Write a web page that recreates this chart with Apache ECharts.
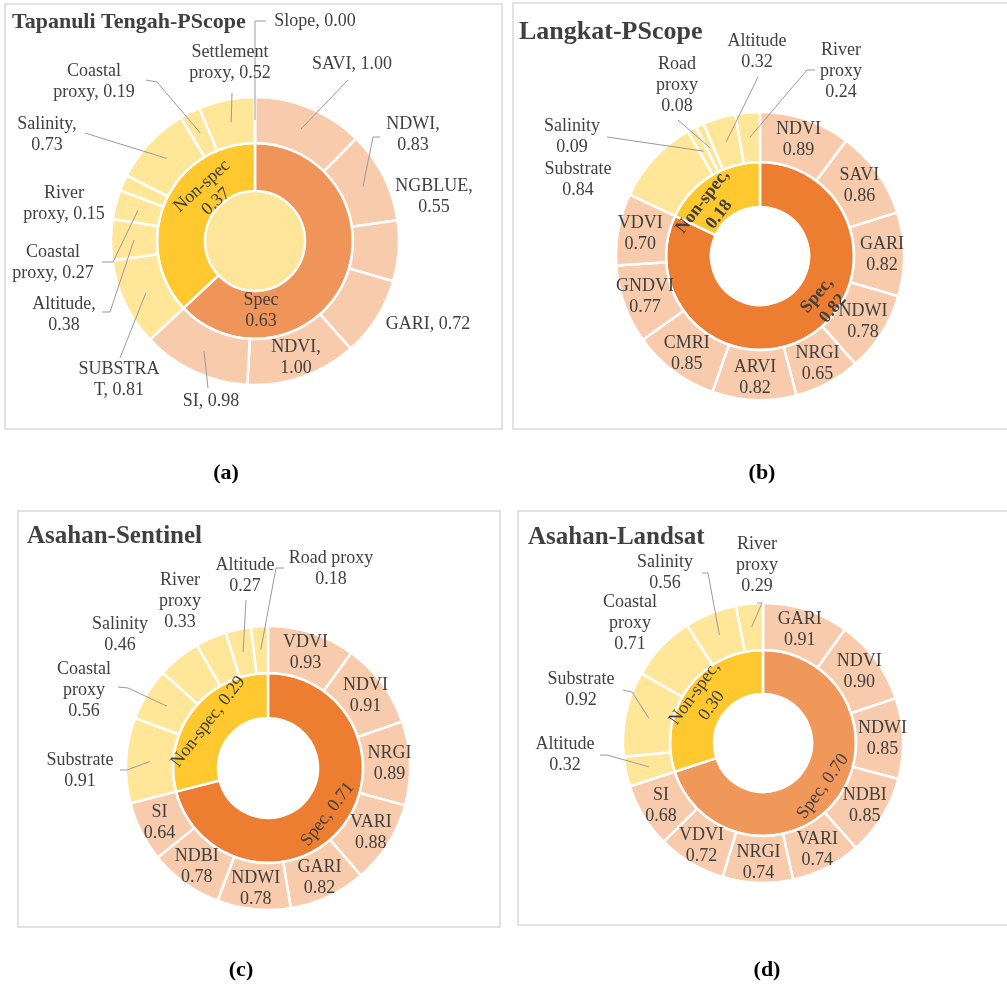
<!DOCTYPE html>
<html><head><meta charset="utf-8">
<script src="https://cdn.jsdelivr.net/npm/echarts@6/dist/echarts.min.js"></script>
<style>html,body{margin:0;padding:0;background:#fff}#c{width:1007px;height:987px}</style>
</head><body><div id="c"></div>
<script>
// ---------- DATA ----------
// (a) Tapanuli Tengah-PScope
const aGroups = ['Spec', 'Non-spec'];
const aGroupValues = [0.63, 0.37];
const aSpecNames = ['SAVI', 'NDWI', 'NGBLUE', 'GARI', 'NDVI', 'SI'];
const aSpecValues = [1.00, 0.83, 0.55, 0.72, 1.00, 0.98];
const aNonNames = ['SUBSTRA\nT', 'Altitude', 'Coastal\nproxy', 'River\nproxy', 'Salinity', 'Coastal\nproxy', 'Settlement\nproxy', 'Slope'];
const aNonValues = [0.81, 0.38, 0.27, 0.15, 0.73, 0.19, 0.52, 0.00];

// (b) Langkat-PScope
const bGroups = ['Spec', 'Non-spec'];
const bGroupValues = [0.82, 0.18];
const bSpecNames = ['NDVI', 'SAVI', 'GARI', 'NDWI', 'NRGI', 'ARVI', 'CMRI', 'GNDVI', 'VDVI'];
const bSpecValues = [0.89, 0.86, 0.82, 0.78, 0.65, 0.82, 0.85, 0.77, 0.70];
const bNonNames = ['Substrate', 'Salinity', 'Road\nproxy', 'Altitude', 'River\nproxy'];
const bNonValues = [0.84, 0.09, 0.08, 0.32, 0.24];

// (c) Asahan-Sentinel
const cGroups = ['Spec', 'Non-spec'];
const cGroupValues = [0.71, 0.29];
const cSpecNames = ['VDVI', 'NDVI', 'NRGI', 'VARI', 'GARI', 'NDWI', 'NDBI', 'SI'];
const cSpecValues = [0.93, 0.91, 0.89, 0.88, 0.82, 0.78, 0.78, 0.64];
const cNonNames = ['Substrate', 'Coastal\nproxy', 'Salinity', 'River\nproxy', 'Altitude', 'Road proxy'];
const cNonValues = [0.91, 0.56, 0.46, 0.33, 0.27, 0.18];

// (d) Asahan-Landsat
const dGroups = ['Spec', 'Non-spec'];
const dGroupValues = [0.70, 0.30];
const dSpecNames = ['GARI', 'NDVI', 'NDWI', 'NDBI', 'VARI', 'NRGI', 'VDVI', 'SI'];
const dSpecValues = [0.91, 0.90, 0.85, 0.85, 0.74, 0.74, 0.72, 0.68];
const dNonNames = ['Altitude', 'Substrate', 'Coastal\nproxy', 'Salinity', 'River\nproxy'];
const dNonValues = [0.32, 0.92, 0.71, 0.56, 0.29];

const panelTitles = ['Tapanuli Tengah-PScope', 'Langkat-PScope', 'Asahan-Sentinel', 'Asahan-Landsat'];
const panelCaptions = ['(a)', '(b)', '(c)', '(d)'];

// ---------- STYLE / LAYOUT ----------
const FONT = '"Liberation Serif", "Times New Roman", serif';
const TXT = '#404040';
const SPEC_OUT = '#F8CBAD', NON_OUT = '#FFE699', NON_IN = '#FFC82F';
const LINE = '#9A9A9A';
const FS = 18, LH = 21;

// outside label placement: index in outer ring -> [labelCenterX, labelCenterY, leaderPoints | null]
const aOutLayout = {
  0: [352, 64, [[348, 80]]],
  1: [413, 135, [[373, 137], [380, 137]]],
  2: [434, 197, null],
  3: [428, 324, null],
  5: [211, 401, [[208, 388]]],
  6: [119, 380, [[120, 358]]],
  7: [64, 315, [[110, 312], [102, 312]]],
  8: [53, 263, [[113, 262], [102, 262]]],
  9: [64, 204, null],
  10: [47, 135, [[85, 133]]],
  11: [94, 82, [[157, 82], [146, 80]]],
  12: [230, 63, [[232, 93]]],
  13: [315, 21, [[255, 21], [266, 21]]]
};
const bOutLayout = {
  9: [578, 180, null],
  10: [572, 137, [[607, 137]]],
  11: [677, 85, [[678, 120]]],
  12: [757, 52, [[758, 77]]],
  13: [841, 71, [[807, 70], [815, 70]]]
};
const cOutLayout = {
  8: [80, 771, [[127, 770], [120, 770]]],
  9: [84, 690, [[128, 688], [118, 687]]],
  10: [120, 635, null],
  11: [180, 601, null],
  12: [245, 576, [[246, 600]]],
  13: [331, 569, [[276, 568], [284, 568]]]
};
const dOutLayout = {
  8: [565, 755, [[607, 755], [600, 755]]],
  9: [581, 690, [[632, 692], [623, 690]]],
  10: [630, 623, null],
  11: [665, 573, [[708, 573], [702, 573]]],
  12: [757, 565, [[762, 603], [757, 603]]]
};
// inner ring label placement: index -> [x, y, rotateDeg]
const aInLayout = { 0: [261, 311, 0], 1: [209, 194, 42] };
const bInLayout = { 0: [825, 302, 50], 1: [711, 208, 52] };

const panels = [
  { center: [255, 241], r: [50, 98, 144], specIn: '#F0955A', hole: '#FFE59A', innerBold: false,
    groups: aGroups, groupValues: aGroupValues, groupSep: ['\n', '\n'],
    specNames: aSpecNames, specValues: aSpecValues, nonNames: aNonNames, nonValues: aNonValues,
    specSep: [', ', ',\n', ',\n', ', ', ',\n', ', '],
    nonSep: [', ', ',\n', ', ', ', ', ',\n', ', ', ', ', ', '],
    specPos: ['outside', 'outside', 'outside', 'outside', 'inside', 'outside'],
    outLayout: aOutLayout, inLayout: aInLayout },
  { center: [760, 256], r: [49, 94, 144], specIn: '#ED7D31', hole: null, innerBold: true,
    groups: bGroups, groupValues: bGroupValues, groupSep: [',\n', ',\n'],
    specNames: bSpecNames, specValues: bSpecValues, nonNames: bNonNames, nonValues: bNonValues,
    specSep: null, nonSep: null, specPos: null, outLayout: bOutLayout, inLayout: bInLayout },
  { center: [268, 768], r: [50, 95, 142], specIn: '#ED7D31', hole: null, innerBold: false,
    groups: cGroups, groupValues: cGroupValues, groupSep: [', ', ', '],
    specNames: cSpecNames, specValues: cSpecValues, nonNames: cNonNames, nonValues: cNonValues,
    specSep: null, nonSep: null, specPos: null, outLayout: cOutLayout, inLayout: null },
  { center: [763, 743], r: [49, 93, 140], specIn: '#F0975A', hole: null, innerBold: false,
    groups: dGroups, groupValues: dGroupValues, groupSep: [', ', ',\n'],
    specNames: dSpecNames, specValues: dSpecValues, nonNames: dNonNames, nonValues: dNonValues,
    specSep: null, nonSep: null, specPos: null, outLayout: dOutLayout, inLayout: null }
];

const boxes = [[5, 4, 497, 425], [513, 3, 500, 426], [18, 511, 482, 416], [518, 511, 495, 414]];
const titlePos = [[12, 22, 22], [519, 32, 26], [27, 537, 25], [528, 538, 25]];
const captionPos = [[226, 473], [762, 473], [241, 970], [767, 970]];

// ---------- BUILD ----------
const sum = a => a.reduce((s, v) => s + v, 0);
const fmt = v => v.toFixed(2);
function richText(text) { return text.split('\n').map(l => '{c|' + l + '}').join('\n'); }
function richStyle(bold) {
  return { c: { align: 'center', fontFamily: FONT, fontSize: FS, lineHeight: LH, color: TXT, fontWeight: bold ? 'bold' : 'normal' } };
}

const series = [];
panels.forEach((p, pi) => {
  if (p.hole) {
    series.push({ type: 'pie', center: p.center, radius: [0, p.r[0]], silent: true, label: { show: false }, labelLine: { show: false },
      itemStyle: { color: p.hole }, data: [{ name: '', value: 1 }], z: 1 });
  }
  series.push({
    type: 'pie', center: p.center, radius: [p.r[0], p.r[1]], startAngle: 90, clockwise: true, silent: true,
    avoidLabelOverlap: false, z: 2,
    itemStyle: { borderColor: '#fff', borderWidth: 2.5 },
    label: { show: true, position: 'inside', rotate: 'tangential',
      formatter: prm => richText(prm.name + p.groupSep[prm.dataIndex] + fmt(prm.data.raw)), rich: richStyle(p.innerBold) },
    labelLine: { show: false },
    labelLayout: prm => {
      const L = p.inLayout && p.inLayout[prm.dataIndex];
      return L ? { x: L[0], y: L[1], rotate: L[2], align: 'center', verticalAlign: 'middle' } : {};
    },
    data: p.groups.map((g, i) => ({ name: g, value: p.groupValues[i], raw: p.groupValues[i],
      itemStyle: { color: i === 0 ? p.specIn : NON_IN } }))
  });
  const sSum = sum(p.specValues), nSum = sum(p.nonValues);
  const items = [];
  p.specNames.forEach((n, i) => items.push({ name: n, value: p.groupValues[0] * p.specValues[i] / sSum, raw: p.specValues[i],
    sep: p.specSep ? p.specSep[i] : '\n', color: SPEC_OUT, pos: p.specPos ? p.specPos[i] : 'inside' }));
  p.nonNames.forEach((n, i) => items.push({ name: n, value: p.groupValues[1] * p.nonValues[i] / nSum, raw: p.nonValues[i],
    sep: p.nonSep ? p.nonSep[i] : '\n', color: NON_OUT, pos: 'outside' }));

  // outer ring sectors
  series.push({
    type: 'pie', center: p.center, radius: [p.r[1], p.r[2]], startAngle: 90, clockwise: true, silent: true,
    z: 2, itemStyle: { borderColor: '#fff', borderWidth: 2.5 },
    label: { show: false }, labelLine: { show: false },
    data: items.map(it => ({ name: it.name, value: it.value, itemStyle: { color: it.color } }))
  });
  // outer ring labels + leader lines (same geometry, transparent sectors, drawn on top)
  const rMid = (p.r[1] + p.r[2]) / 2;
  series.push({
    type: 'pie', center: p.center, radius: [p.r[1], p.r[2]], startAngle: 90, clockwise: true, silent: true,
    avoidLabelOverlap: false, minShowLabelAngle: 0, z: 5,
    itemStyle: { color: 'rgba(0,0,0,0)', borderWidth: 0 },
    label: { show: true, formatter: prm => richText(prm.name + prm.data.sep + fmt(prm.data.raw)), rich: richStyle(false) },
    labelLine: { show: true, length: 10, length2: 8, lineStyle: { color: LINE, width: 1 } },
    labelLayout: prm => {
      const L = p.outLayout[prm.dataIndex];
      if (!L) return {};
      const res = { x: L[0], y: L[1], align: 'center', verticalAlign: 'middle' };
      if (L[2] && prm.labelLinePoints && prm.labelLinePoints.length) {
        const p0 = prm.labelLinePoints[0];
        const cx = p.center[0], cy = p.center[1];
        const k = rMid / p.r[2];
        res.labelLinePoints = [[cx + (p0[0] - cx) * k, cy + (p0[1] - cy) * k]].concat(L[2]);
      }
      return res;
    },
    data: items.map((it, idx) => ({ name: it.name, value: it.value, raw: it.raw, sep: it.sep,
      label: { position: it.pos },
      labelLine: { show: !!(p.outLayout[idx] && p.outLayout[idx][2]) } }))
  });
});

const graphics = [];
boxes.forEach(b => graphics.push({ type: 'rect', shape: { x: b[0], y: b[1], width: b[2], height: b[3] },
  style: { fill: 'none', stroke: '#D9D9D9', lineWidth: 1.5 }, z: -1 }));
panelTitles.forEach((t, i) => graphics.push({ type: 'text', x: titlePos[i][0], y: titlePos[i][1],
  style: { text: t, font: 'bold ' + titlePos[i][2] + 'px ' + FONT, fill: TXT, textVerticalAlign: 'middle' } }));
panelCaptions.forEach((t, i) => graphics.push({ type: 'text', x: captionPos[i][0], y: captionPos[i][1],
  style: { text: t, font: 'bold 22px ' + FONT, fill: '#000', textAlign: 'center', textVerticalAlign: 'middle' } }));

const chart = echarts.init(document.getElementById('c'), null, { renderer: 'canvas' });
chart.setOption({ backgroundColor: '#fff', animation: false, series, graphic: { elements: graphics } });
</script></body></html>
